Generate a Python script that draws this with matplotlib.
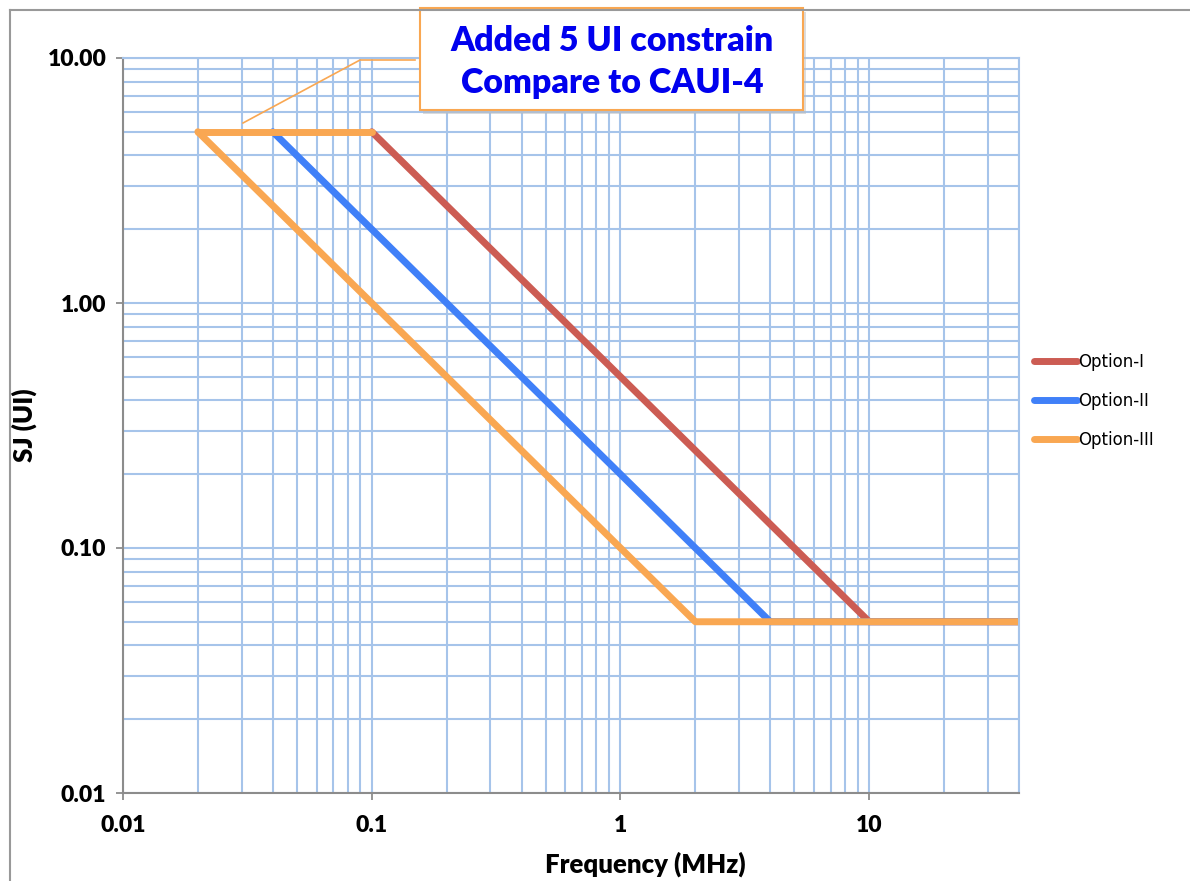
import matplotlib.pyplot as plt
from matplotlib.lines import Line2D
from matplotlib.patches import Rectangle
from matplotlib.ticker import FixedLocator, FormatStrFormatter, LogLocator, NullFormatter

# jitter tolerance masks (frequency in MHz, SJ in UI)
freq_opt1 = [0.1, 10, 40]
sj_opt1 = [5, 0.05, 0.05]
freq_opt2 = [0.04, 4, 40]
sj_opt2 = [5, 0.05, 0.05]
freq_opt3 = [0.02, 2, 40]
sj_opt3 = [5, 0.05, 0.05]
# the added 5 UI cap
cap_freq = [0.02, 0.1]
cap_sj = [5, 5]

labels = ['Option-I', 'Option-II', 'Option-III']
colors = ['#CC5C53', '#4080F8', '#F9A752']
x_ticks = [0.01, 0.1, 1, 10]
y_ticks = [0.01, 0.1, 1, 10]

W, H = 1190, 881
fig = plt.figure(figsize=(W / 100, H / 100), dpi=100)
ax = fig.add_axes([123 / W, 1 - 793 / H, 896 / W, 735 / H])

grid_c = '#A6C4EA'
ax.set_xscale('log')
ax.set_yscale('log')
ax.set_xlim(0.01, 40)
ax.set_ylim(0.01, 10)
ax.xaxis.set_major_locator(FixedLocator(x_ticks))
ax.yaxis.set_major_locator(FixedLocator(y_ticks))
ax.xaxis.set_minor_locator(LogLocator(base=10, subs=range(2, 10), numticks=20))
ax.yaxis.set_minor_locator(LogLocator(base=10, subs=range(2, 10), numticks=20))
ax.xaxis.set_minor_formatter(NullFormatter())
ax.yaxis.set_minor_formatter(NullFormatter())
ax.xaxis.set_major_formatter(FormatStrFormatter('%g'))
ax.yaxis.set_major_formatter(FormatStrFormatter('%.2f'))
ax.grid(True, which='both', color=grid_c, lw=1.5)
ax.set_axisbelow(True)
ax.tick_params(which='minor', length=0)
ax.tick_params(which='major', length=5, width=1.3, color='#8C8C8C', direction='out')
ax.tick_params(axis='y', pad=7)
ax.tick_params(axis='x', pad=11)
for t in ax.get_xticklabels() + ax.get_yticklabels():
    t.set_fontfamily('Lato')
    t.set_fontweight('heavy')
    t.set_fontsize(16.5)
for s in ['left', 'bottom']:
    ax.spines[s].set_color('#8C8C8C')
    ax.spines[s].set_linewidth(1.5)
for s in ['top', 'right']:
    ax.spines[s].set_color(grid_c)
    ax.spines[s].set_linewidth(1.5)

series = [(freq_opt1, sj_opt1), (freq_opt2, sj_opt2), (freq_opt3, sj_opt3)]
for (f, sj), lab, c in zip(series, labels, colors):
    ax.plot(f, sj, color=c, lw=5, label=lab, solid_capstyle='round', solid_joinstyle='round')
ax.plot(cap_freq, cap_sj, color=colors[2], lw=5, solid_capstyle='round')

ax.set_xlabel('Frequency (MHz)', fontfamily='Lato', fontweight='heavy', fontsize=18.5, va='center')
ax.set_ylabel('SJ (UI)', fontfamily='Lato', fontweight='heavy', fontsize=18.5, va='center')
ax.xaxis.set_label_coords((645 - 123) / 896, (793 - 864) / 735)
ax.yaxis.set_label_coords((24 - 123) / 896, 0.5)

fig.legend(loc='upper left', bbox_to_anchor=(1019 / W, 1 - 338 / H), frameon=False,
           prop={'family': 'DejaVu Sans', 'size': 12}, handlelength=2.6,
           handletextpad=0.05, labelspacing=1.25)

# outer chart border
fig.add_artist(Line2D([10 / W, 10 / W], [0, 1 - 10 / H], color='#999999', lw=1.5))
fig.add_artist(Line2D([10 / W, 1], [1 - 10 / H, 1 - 10 / H], color='#999999', lw=1.5))

# callout
fig.add_artist(Line2D([243 / W, 360 / W, 415 / W], [1 - 123 / H, 1 - 60 / H, 1 - 60 / H],
                      color=colors[2], lw=1.2))
fig.add_artist(Rectangle((423 / W, 1 - 114 / H), 383 / W, 102 / H, facecolor='#BBBBBB',
                         edgecolor='none', alpha=0.5))
fig.add_artist(Rectangle((420 / W, 1 - 110 / H), 383 / W, 102 / H, facecolor='white',
                         edgecolor=colors[2], lw=1.5))
fig.text(612 / W, 1 - 41 / H, 'Added 5 UI constrain', ha='center', va='center', color='#0000EE',
         fontfamily='Lato', fontweight='heavy', fontsize=24.5)
fig.text(612 / W, 1 - 83 / H, 'Compare to CAUI-4', ha='center', va='center', color='#0000EE',
         fontfamily='Lato', fontweight='heavy', fontsize=24.5)

fig.savefig('out.png', dpi=100)
